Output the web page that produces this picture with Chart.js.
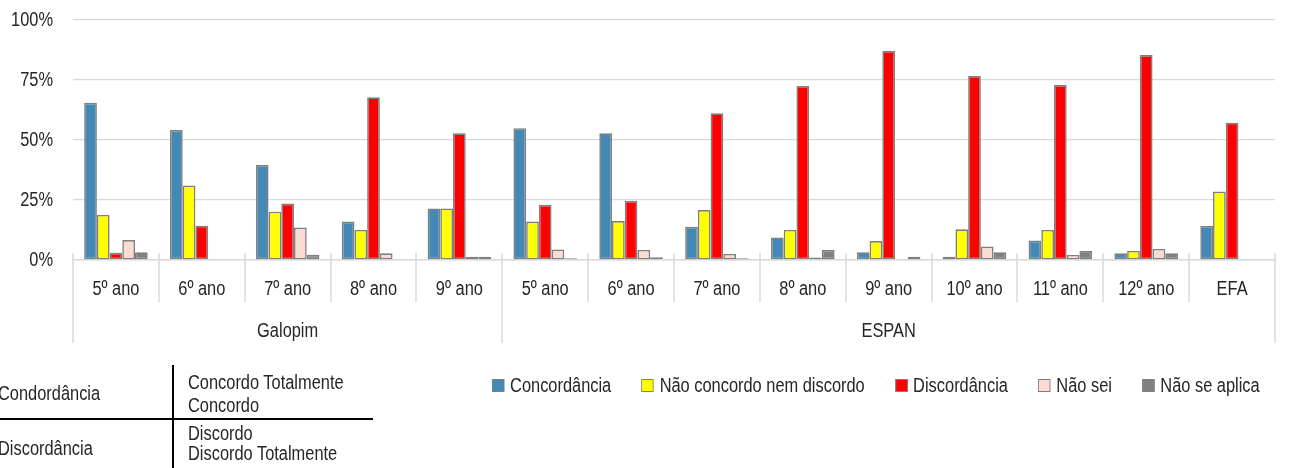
<!DOCTYPE html>
<html>
<head>
<meta charset="utf-8">
<script src="https://cdn.jsdelivr.net/npm/chart.js@4"></script>
<style>
html,body{margin:0;padding:0;background:#fff;}
#wrap{position:relative;width:1289px;height:468px;overflow:hidden;font-family:'Liberation Sans',Arial,sans-serif;color:#262626;}
#chartBox{position:absolute;left:0;top:0;width:1289px;height:468px;}
.legend{position:absolute;left:492px;top:373px;display:flex;align-items:center;font-size:20px;line-height:24px;white-space:nowrap;transform:scaleX(0.82);transform-origin:0 0;}
.legend .item{display:flex;align-items:center;margin-right:37px;}
.legend .box{width:13px;height:11px;border:1px solid #7f7f7f;margin-right:7px;}
.t{position:absolute;font-size:20px;line-height:24px;white-space:nowrap;transform:scaleX(0.82);transform-origin:0 0;}
.ln{position:absolute;background:#000;}
</style>
</head>
<body>
<div id="wrap">
  <div id="chartBox"><canvas id="c"></canvas></div>
  <div class="legend" id="legend"></div>
  <div id="tbl"></div>
</div>
<script>
// ---- data ----
const categories = ['5º ano','6º ano','7º ano','8º ano','9º ano','5º ano','6º ano','7º ano','8º ano','9º ano','10º ano','11º ano','12º ano','EFA'];
const groupLabels = ['Galopim','ESPAN'];
const groupSizes = [5, 9];
const seriesNames = ['Concordância','Não concordo nem discordo','Discordância','Não sei','Não se aplica'];
const concordancia   = [65.5, 54.2, 39.6, 16.0, 21.5, 54.9, 52.8, 13.9,  9.4,  3.2,  1.4,  8.1,  2.8, 14.2];
const naoConcordo    = [18.8, 31.0, 20.1, 12.5, 21.5, 16.0, 16.2, 20.8, 12.5,  7.9, 12.8, 12.5,  3.8, 28.5];
const discordancia   = [ 3.0, 14.3, 23.5, 67.8, 52.8, 23.0, 24.6, 61.1, 72.5, 87.1, 76.7, 72.9, 85.4, 57.2];
const naoSei         = [ 8.3,  0.0, 13.5,  2.8,  1.4,  4.4,  4.2,  2.5,  1.0,  0.0,  5.6,  2.1,  4.6,  0.0];
const naoSeAplica    = [ 3.2,  0.0,  2.2,  0.0,  1.4,  0.7,  1.1,  0.7,  4.2,  1.4,  3.2,  3.7,  2.8,  0.0];
const yTicks = [0, 25, 50, 75, 100];
const tableLeft = ['Condordância','Discordância'];
const tableRight = [['Concordo Totalmente','Concordo'],['Discordo','Discordo Totalmente']];

const colors = ['#428ab5','#ffff00','#ff0000','#fadbd2','#808080'];
const seriesData = [concordancia, naoConcordo, discordancia, naoSei, naoSeAplica];
const FONT = "'Liberation Sans',Arial,sans-serif";
const NARROW = 0.82;
const TXT = '#262626';
const GRID = '#d9d9d9';

Chart.defaults.font.family = FONT;
Chart.defaults.font.size = 20;
Chart.defaults.color = TXT;

function narrowText(ctx, text, x, y, align) {
  ctx.save();
  ctx.translate(x, y);
  ctx.scale(NARROW, 1);
  ctx.textAlign = align;
  ctx.textBaseline = 'middle';
  ctx.fillText(text, 0, 0);
  ctx.restore();
}

const axisTextPlugin = {
  id: 'axisText',
  afterDraw(chart) {
    const ctx = chart.ctx, a = chart.chartArea, x = chart.scales.x, y = chart.scales.y;
    const n = categories.length;
    const bx = i => i === 0 ? a.left : (i === n ? a.right : (x.getPixelForValue(i - 1) + x.getPixelForValue(i)) / 2);
    const bounds = [0];
    groupSizes.forEach(s => bounds.push(bounds[bounds.length - 1] + s));
    ctx.save();
    ctx.strokeStyle = GRID;
    ctx.lineWidth = 1.5;
    for (let i = 0; i <= n; i++) {
      const px = Math.round(bx(i));
      const isG = bounds.includes(i);
      ctx.beginPath();
      ctx.moveTo(px, a.bottom - 7);
      ctx.lineTo(px, a.bottom + (isG ? 83 : 42));
      ctx.stroke();
    }
    ctx.fillStyle = TXT;
    ctx.font = '20px ' + FONT;
    // y tick labels
    y.ticks.forEach(t => narrowText(ctx, t.value + '%', a.left - 20, y.getPixelForValue(t.value), 'right'));
    // x category labels
    x.ticks.forEach((t, i) => narrowText(ctx, x.getLabelForValue(t.value), x.getPixelForTick(i), a.bottom + 29, 'center'));
    // group labels
    groupLabels.forEach((g, k) => {
      narrowText(ctx, g, (bx(bounds[k]) + bx(bounds[k + 1])) / 2, a.bottom + 71, 'center');
    });
    ctx.restore();
  }
};

new Chart(document.getElementById('c'), {
  type: 'bar',
  data: {
    labels: categories,
    datasets: seriesNames.map((name, i) => ({
      label: name,
      data: seriesData[i],
      backgroundColor: colors[i],
      borderColor: '#7f7f7f',
      borderWidth: 1.6,
      borderSkipped: false,
      categoryPercentage: 0.74,
      barPercentage: 1.0
    }))
  },
  options: {
    responsive: true,
    maintainAspectRatio: false,
    animation: false,
    layout: { padding: { top: 20, right: 14, bottom: 0, left: 0 } },
    plugins: { legend: { display: false }, tooltip: { enabled: false } },
    scales: {
      x: {
        grid: { display: false, drawTicks: false },
        border: { display: true, color: GRID, width: 1.5 },
        ticks: { display: false, autoSkip: false, maxRotation: 0 },
        afterFit(s) { s.height = 208; }
      },
      y: {
        min: 0, max: 100,
        afterBuildTicks(s) { s.ticks = yTicks.map(v => ({ value: v })); },
        ticks: { display: false },
        grid: { color: GRID, lineWidth: 1.3, drawTicks: false },
        border: { display: false },
        afterFit(s) { s.width = 73; }
      }
    }
  },
  plugins: [axisTextPlugin]
});

// legend (HTML) from series arrays
const lg = document.getElementById('legend');
seriesNames.forEach((name, i) => {
  const it = document.createElement('div'); it.className = 'item';
  const b = document.createElement('div'); b.className = 'box'; b.style.background = colors[i];
  const s = document.createElement('span'); s.textContent = name;
  it.appendChild(b); it.appendChild(s); lg.appendChild(it);
});

// side table
const tbl = document.getElementById('tbl');
function addText(txt, left, top) {
  const d = document.createElement('div'); d.className = 't';
  d.style.left = left + 'px'; d.style.top = top + 'px'; d.textContent = txt; tbl.appendChild(d);
}
function addLine(l, t, w, h) {
  const d = document.createElement('div'); d.className = 'ln';
  d.style.left = l + 'px'; d.style.top = t + 'px'; d.style.width = w + 'px'; d.style.height = h + 'px'; tbl.appendChild(d);
}
addLine(172, 365, 2, 103);
addLine(0, 418, 373, 2);
addText(tableLeft[0], -2, 381);
addText(tableLeft[1], -2, 436);
addText(tableRight[0][0], 188, 370);
addText(tableRight[0][1], 188, 393);
addText(tableRight[1][0], 188, 421);
addText(tableRight[1][1], 188, 441);
</script>
</body>
</html>
